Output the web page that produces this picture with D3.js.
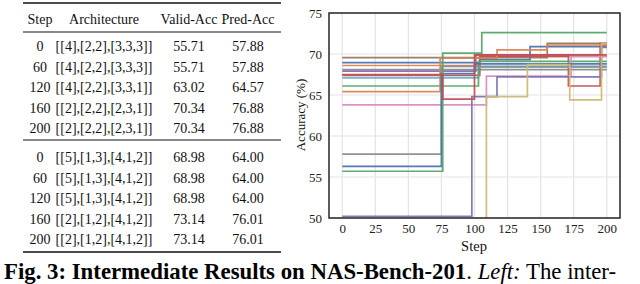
<!DOCTYPE html>
<html>
<head>
<meta charset="utf-8">
<script src="https://cdn.jsdelivr.net/npm/d3@7"></script>
<style>
  body { margin: 0; background: #fff; }
  svg text { font-family: "Liberation Serif", "Times New Roman", Times, "DejaVu Serif", serif; }
</style>
</head>
<body>
<svg id="fig" width="640" height="284"></svg>
<script>
// table contents
const tableHeader = ["Step", "Architecture", "Valid-Acc", "Pred-Acc"];
const tableSteps = [0, 60, 120, 160, 200];
const arch1 = ["[[4],[2,2],[3,3,3]]", "[[4],[2,2],[3,3,3]]", "[[4],[2,2],[3,3,1]]", "[[2],[2,2],[2,3,1]]", "[[2],[2,2],[2,3,1]]"];
const valid1 = ["55.71", "55.71", "63.02", "70.34", "70.34"];
const pred1 = ["57.88", "57.88", "64.57", "76.88", "76.88"];
const arch2 = ["[[5],[1,3],[4,1,2]]", "[[5],[1,3],[4,1,2]]", "[[5],[1,3],[4,1,2]]", "[[2],[1,2],[4,1,2]]", "[[2],[1,2],[4,1,2]]"];
const valid2 = ["68.98", "68.98", "68.98", "73.14", "73.14"];
const pred2 = ["64.00", "64.00", "64.00", "76.01", "76.01"];

// chart: accuracy per search run, [step, value] at every change
const xTicks = [0, 25, 50, 75, 100, 125, 150, 175, 200];
const yTicks = [50, 55, 60, 65, 70, 75];
const runBrown = [[0, 69.55], [155, 71.3], [200, 71.3]];
const runBlue = [[0, 68.94], [104, 69.3], [142, 70.9], [200, 70.9]];
const runOrange = [[0, 68.6], [104, 69.7], [200, 69.7]];
const runGray = [[0, 68.1], [200, 68.1]];
const runPurple = [[0, 67.9], [101, 69.9], [196, 71.0], [200, 71.0]];
const runRed = [[0, 67.4], [104, 69.7], [171, 66.1], [195, 71.3], [200, 71.3]];
const runCyan = [[0, 67.1], [103, 68.4], [200, 68.4]];
const runGreen = [[0, 66.1], [103, 69.1], [200, 69.1]];
const runOrange2 = [[0, 65.4], [74, 69.5], [117, 70.5], [155, 71.1], [200, 71.1]];
const runPink = [[0, 63.8], [109, 67.3], [173, 69.7], [200, 69.7]];
const runGray2 = [[0, 57.8], [75, 68.5], [200, 68.5]];
const runBlue2 = [[0, 56.3], [75, 67.6], [100, 68.8], [200, 68.8]];
const runGreen2 = [[0, 55.7], [76, 70.1], [105.5, 72.6], [200, 72.6]];
const runPurple2 = [[0, 50.2], [98, 64.8], [117, 67.2], [196, 70.8], [200, 70.8]];
const runOlive = [[0, 49], [109, 64.8], [140, 68.7], [172, 64.4], [196, 71.3], [200, 71.3]];
const runRed2 = [[0, 67.5], [76, 64.5], [100, 69.9], [200, 69.9]];

const runs = [
  { c: "#937860", d: runBrown }, { c: "#4C72B0", d: runBlue }, { c: "#DD8452", d: runOrange },
  { c: "#8C8C8C", d: runGray }, { c: "#8172B3", d: runPurple }, { c: "#C44E52", d: runRed },
  { c: "#64B5CD", d: runCyan }, { c: "#55A868", d: runGreen }, { c: "#DD8452", d: runOrange2 },
  { c: "#DA8BC3", d: runPink }, { c: "#8C8C8C", d: runGray2 }, { c: "#4C72B0", d: runBlue2 },
  { c: "#55A868", d: runGreen2 }, { c: "#8172B3", d: runPurple2 }, { c: "#CCB974", d: runOlive },
  { c: "#C44E52", d: runRed2 },
];

const svg = d3.select("#fig");

// ---- table ----
const colX = [40, 104, 189, 248];
const tbl = svg.append("g").attr("font-size", 14).attr("fill", "#111");
const rule = (y, w) => tbl.append("line").attr("x1", 23).attr("x2", 281)
  .attr("y1", y).attr("y2", y).attr("stroke", "#111").attr("stroke-width", w);
rule(3, 1.6);
rule(32, 1);
rule(140, 1);
rule(252, 1.6);

tbl.selectAll(".hd").data(tableHeader).join("text")
  .attr("x", (d, i) => colX[i]).attr("y", 19).attr("dy", "0.35em")
  .attr("text-anchor", "middle").text(d => d);

function rows(y0, arch, valid, pred) {
  tableSteps.forEach((s, i) => {
    const y = y0 + i * 20.6;
    [s, arch[i], valid[i], pred[i]].forEach((v, j) => {
      tbl.append("text").attr("x", colX[j]).attr("y", y).attr("dy", "0.35em")
        .attr("text-anchor", "middle").text(v);
    });
  });
}
rows(46, arch1, valid1, pred1);
rows(157, arch2, valid2, pred2);

// ---- chart ----
const x = d3.scaleLinear().domain([-10, 210]).range([329, 620]);
const y = d3.scaleLinear().domain([50, 75]).range([218, 13]);

const chart = svg.append("g");
chart.append("clipPath").attr("id", "plotclip").append("rect")
  .attr("x", 329).attr("y", 13).attr("width", 291).attr("height", 205);

chart.append("g").selectAll("line").data(xTicks).join("line")
  .attr("x1", d => x(d)).attr("x2", d => x(d)).attr("y1", 13).attr("y2", 218)
  .attr("stroke", "#e3e3e3").attr("stroke-width", 1.2);
chart.append("g").selectAll("line").data(yTicks).join("line")
  .attr("x1", 329).attr("x2", 620).attr("y1", d => y(d)).attr("y2", d => y(d))
  .attr("stroke", "#e3e3e3").attr("stroke-width", 1.2);

const line = d3.line().x(d => x(d[0])).y(d => y(d[1])).curve(d3.curveStepAfter);
chart.append("g").attr("clip-path", "url(#plotclip)")
  .selectAll("path").data(runs).join("path")
  .attr("d", r => line(r.d)).attr("fill", "none")
  .attr("stroke", r => r.c).attr("stroke-width", 1.7).attr("stroke-opacity", 0.95);

chart.append("rect").attr("x", 329).attr("y", 13).attr("width", 291).attr("height", 205)
  .attr("fill", "none").attr("stroke", "#333").attr("stroke-width", 1.6);

const xAxis = d3.axisBottom(x).tickValues(xTicks).tickSize(0).tickPadding(6);
chart.append("g").attr("transform", "translate(0,218)").call(xAxis)
  .call(g => g.select(".domain").remove())
  .call(g => g.attr("font-family", null))
  .selectAll("text").attr("font-size", 13).attr("fill", "#222");
const yAxis = d3.axisLeft(y).tickValues(yTicks).tickSize(0).tickPadding(7);
chart.append("g").attr("transform", "translate(329,0)").call(yAxis)
  .call(g => g.select(".domain").remove())
  .call(g => g.attr("font-family", null))
  .selectAll("text").attr("font-size", 13).attr("fill", "#222");

chart.append("text").attr("x", 474).attr("y", 246).attr("dy", "0.35em")
  .attr("text-anchor", "middle").attr("font-size", 14.5).attr("fill", "#111").text("Step");
chart.append("text").attr("transform", "translate(300,115) rotate(-90)").attr("dy", "0.35em")
  .attr("text-anchor", "middle").attr("font-size", 13).attr("fill", "#111").text("Accuracy (%)");

// ---- caption ----
const cap = svg.append("text").attr("x", 4).attr("y", 279).attr("font-size", 22.8).attr("fill", "#000");
cap.append("tspan").attr("font-weight", "bold").text("Fig. 3: Intermediate Results on NAS-Bench-201");
cap.append("tspan").text(". ");
cap.append("tspan").attr("font-style", "italic").text("Left:");
cap.append("tspan").text(" The inter-");
</script>
</body>
</html>
